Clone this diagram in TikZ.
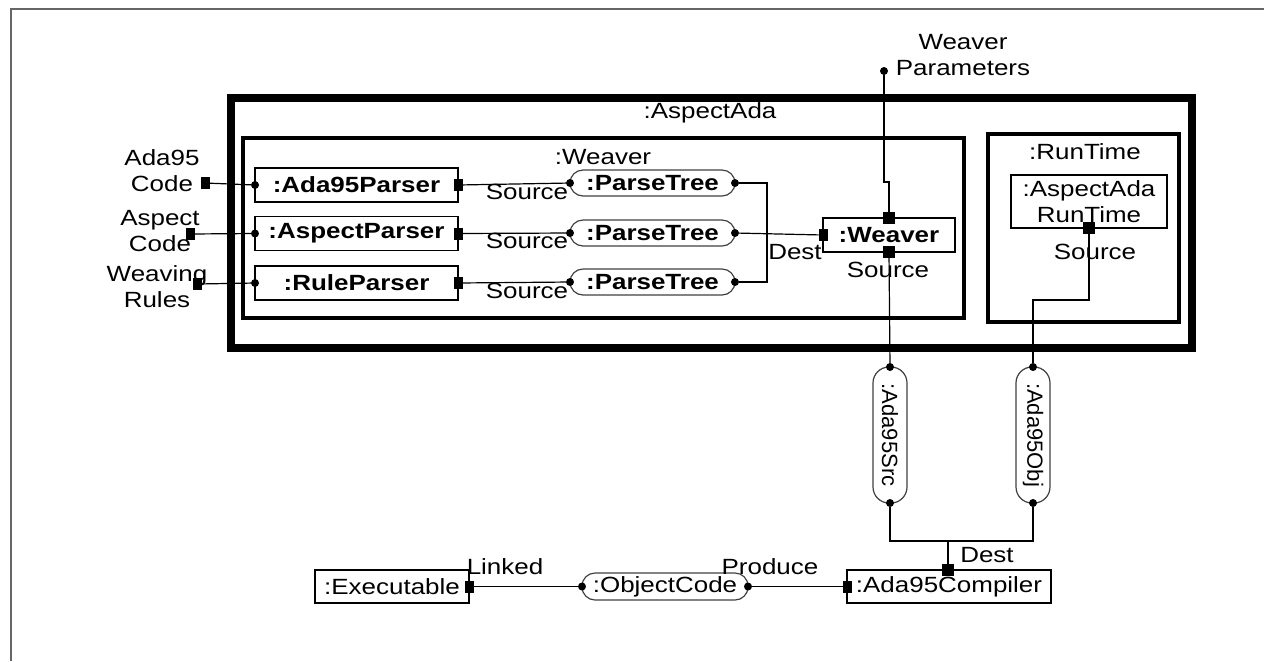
\documentclass[tikz,border=0pt]{standalone}
\usepackage{fontspec}
\setmainfont{Liberation Sans}[FakeStretch=1.18]
\newfontfamily\rotfont{Liberation Sans}
\begin{document}
\begin{tikzpicture}[x=0.5pt,y=-0.5pt,
  every node/.style={inner sep=0pt,outer sep=0pt},
  lbl/.style={font=\fontsize{11}{13}\selectfont,align=center},
  blbl/.style={font=\fontsize{11}{13}\selectfont\bfseries,align=center},
  part/.style={draw,line width=0.9pt,minimum width=101.5pt,minimum height=17pt,font=\fontsize{11}{13}\selectfont\bfseries},
  obj/.style={draw,line width=0.8pt,minimum height=16.5pt,font=\fontsize{11}{13}\selectfont},
  flow/.style={draw=black!75,line width=0.6pt,rounded corners=6.5pt,minimum width=82.5pt,minimum height=13pt,font=\fontsize{11}{13}\selectfont\bfseries},
  vflow/.style={draw=black!75,line width=0.6pt,rounded corners=8pt,minimum width=17pt,minimum height=68pt},
  sq/.style={fill=black,minimum width=4.5pt,minimum height=6pt},
  bsq/.style={fill=black,minimum width=6pt,minimum height=6pt},
  dot/.style={circle,fill=black,minimum size=4pt},
  wire/.style={line width=0.6pt}]
\useasboundingbox (0,0) rectangle (1264,661);
% page frame
\draw[black!60,line width=0.8pt] (1264,9) -- (11,9) -- (11,661);
% containers
\node[draw,line width=4pt,minimum width=480.5pt,minimum height=125pt] (aspectada) at (711.5,223) {};
\node[lbl] (aspectadaL) at (710,113) {:AspectAda};
\node[draw,line width=2pt,minimum width=360.5pt,minimum height=90pt] (weavercont) at (603.5,228) {};
\node[lbl] (weavercontL) at (603,157) {:Weaver};
\node[draw,line width=2pt,minimum width=95.5pt,minimum height=94pt] (runtime) at (1083.5,228) {};
\node[lbl] (runtimeL) at (1085,152) {:RunTime};
% parsers
\node[part] (p1) at (356.5,185) {:Ada95Parser};
\node[part] (p2) at (356.5,233.5) {:AspectParser};
\node[part] (p3) at (356.5,283) {:RuleParser};
% parse trees
\node[flow] (t1) at (652.5,183) {:ParseTree};
\node[flow] (t2) at (652.5,233) {:ParseTree};
\node[flow] (t3) at (652.5,282) {:ParseTree};
% weaver
\node[part,minimum width=66pt] (weaver) at (889,235) {:Weaver};
% runtime object
\node[draw,line width=0.7pt,minimum width=78pt,minimum height=26.5pt,lbl] (art) at (1089,201.5) {:AspectAda\\RunTime};
% data flows vertical
\node[vflow] (src) at (890,435) {\rotatebox{-90}{\rotfont\fontsize{11}{13}\selectfont :Ada95Src}};
\node[vflow] (objf) at (1033,435) {\rotatebox{-90}{\rotfont\fontsize{11}{13}\selectfont :Ada95Obj}};
% bottom row
\node[obj,minimum width=102pt] (comp) at (949,586.5) {:Ada95Compiler};
\node[obj,minimum width=77pt] (exe) at (392,586.5) {:Executable};
\node[flow,font=\fontsize{11}{13}\selectfont,minimum width=83pt,minimum height=13.5pt] (oc) at (665,586.5) {:ObjectCode};
% external inputs
\node[lbl] (inA) at (162,171) {Ada95\\Code};
\node[lbl] (inB) at (160,231) {Aspect\\Code};
\node[lbl] (inC) at (157,287) {Weaving\\Rules};
\node[sq] (sqA) at (205,183) {};
\node[sq] (sqB) at (190,234) {};
\node[sq] (sqC) at (197,284) {};
\node[dot] (dA) at (p1.west) {};
\node[dot] (dB) at (p2.west) {};
\node[dot] (dC) at (p3.west) {};
\draw[wire] (sqA) -- (dA);
\draw[wire] (sqB) -- (dB);
\draw[wire] (sqC) -- (dC);
% parser outputs
\node[sq] (o1) at (p1.east) {};
\node[sq] (o2) at (p2.east) {};
\node[sq] (o3) at (p3.east) {};
\node[dot] (i1) at (t1.west) {};
\node[dot] (i2) at (t2.west) {};
\node[dot] (i3) at (t3.west) {};
\draw[wire] (o1) -- (i1);
\draw[wire] (o2) -- (i2);
\draw[wire] (o3) -- (i3);
\node[lbl] (s1) at (527,192) {Source};
\node[lbl] (s2) at (527,241) {Source};
\node[lbl] (s3) at (527,291) {Source};
% parse trees to weaver
\node[dot] (r1) at (t1.east) {};
\node[dot] (r2) at (t2.east) {};
\node[dot] (r3) at (t3.east) {};
\coordinate (bus) at (767,233);
\node[sq] (wl) at (weaver.west) {};
\draw[wire] (r1) -| (bus);
\draw[wire] (r3) -| (bus);
\draw[wire] (r2) -- (wl);
\node[lbl] (destW) at (795,252) {Dest};
% weaver parameters
\node[dot] (wp) at (884,71) {};
\node[lbl] (wpL) at (963,55) {Weaver\\Parameters};
\node[bsq] (wt) at (weaver.north) {};
\coordinate (jog) at (884,182);
\draw[wire] (wp) -- (jog) -- (jog -| wt) -- (wt);
% weaver output
\node[bsq] (wb) at (weaver.south) {};
\node[lbl] (srcW) at (888,270) {Source};
\node[dot] (srcT) at (src.north) {};
\draw[wire] (wb) -- (srcT);
% runtime output
\node[bsq] (artp) at (art.south) {};
\node[lbl] (srcR) at (1095,252) {Source};
\node[dot] (objT) at (objf.north) {};
\coordinate (rtj) at (1089,300);
\draw[wire] (artp) -- (rtj) -| (objT);
% to compiler
\node[dot] (srcB) at (src.south) {};
\node[dot] (objB) at (objf.south) {};
\coordinate (cj) at (948,541);
\node[bsq] (ct) at (948,570) {};
\draw[wire] (srcB) |- (cj) -| (objB);
\draw[wire] (cj) -- (ct);
\node[lbl] (destC) at (987,555) {Dest};
% compiler to object code to executable
\node[sq] (cl) at (comp.west) {};
\node[dot] (ocr) at (oc.east) {};
\node[dot] (ocl) at (oc.west) {};
\node[sq] (er) at (exe.east) {};
\draw[wire] (ocr) -- (cl);
\draw[wire] (er) -- (ocl);
\node[lbl] (linked) at (505,567) {Linked};
\node[lbl] (produce) at (770,567) {Produce};
\end{tikzpicture}
\end{document}
